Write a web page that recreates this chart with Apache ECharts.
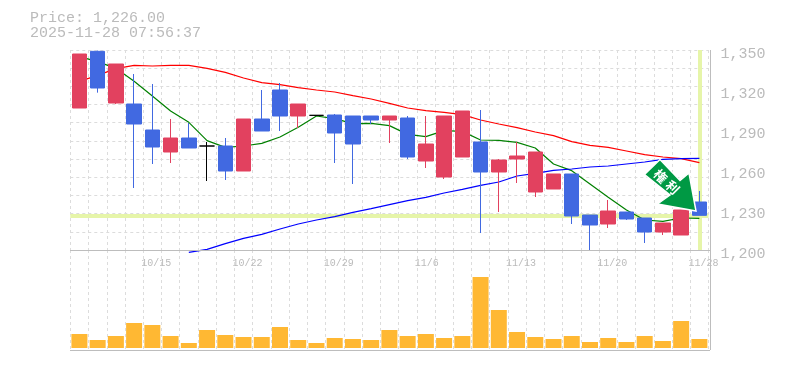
<!DOCTYPE html>
<html>
<head>
<meta charset="utf-8">
<style>
  html, body { margin: 0; padding: 0; background: #fff; }
  #chart { width: 785px; height: 370px; }
</style>
<script src="https://cdn.jsdelivr.net/npm/echarts@6/dist/echarts.min.js"></script>
</head>
<body>
<div id="chart"></div>
<script>
const dates = ['10/8','10/9','10/10','10/14','10/15','10/16','10/17','10/20','10/21','10/22','10/23','10/24','10/27','10/28','10/29','10/30','10/31','11/4','11/5','11/6','11/7','11/10','11/11','11/12','11/13','11/14','11/17','11/18','11/19','11/20','11/21','11/25','11/26','11/27','11/28'];
const dateTicks = ['10/15','10/22','10/29','11/6','11/13','11/20','11/28'];

// open, close, low, high
const ohlc = [
  [1306.5,1347,1306.5,1347],[1349,1321.5,1318,1349.5],[1310.25,1339.5,1309.5,1339.5],[1309.5,1294.5,1246.5,1332],
  [1290,1277.25,1264.5,1324.5],[1273.5,1284,1265.25,1298.25],[1284,1276.5,1276.5,1295.25],[1278,1278,1251.75,1281],
  [1278,1259.25,1252.5,1284],[1259.25,1298.25,1259.25,1298.25],[1298.25,1289.25,1289.25,1320],[1320,1300.5,1289.25,1325.25],
  [1300.5,1309.5,1291.5,1309.5],[1301,1301,1301,1301],[1301.25,1287.75,1265.25,1302],[1300.5,1279.5,1249.5,1300.5],
  [1300.5,1297.5,1294.5,1300.5],[1297.5,1300.5,1280.25,1300.5],[1299,1269.75,1268.25,1300.5],[1266.75,1279.5,1261.5,1300.5],
  [1254.75,1300.5,1253.25,1300.5],[1269.75,1304.25,1269.75,1304.25],[1281,1258.5,1212.75,1305],[1258.5,1267.5,1228.5,1268.25],
  [1268.25,1270.5,1250.25,1281],[1243.5,1273.5,1239.75,1273.5],[1245.75,1257,1245.75,1257],[1257,1225.5,1219.5,1257],
  [1226.25,1218.75,1199.25,1226.25],[1219.5,1229.25,1216.5,1237.5],[1228.5,1223.25,1222.5,1228.5],[1224,1213.5,1205.25,1224],
  [1213.5,1220.25,1211.25,1220.25],[1211.25,1230,1211.25,1230],[1236,1226,1226,1244.25]
];
const ma5 = [1345,1341.25,1336.25,1326.5,1315.5,1304.25,1295.75,1282,1277,1278,1280,1284.75,1292,1300.5,1298.5,1294.75,1295,1293.25,1286.75,1285,1289.5,1289,1282.5,1282.25,1280.75,1276.5,1264.5,1259.5,1249.5,1239.5,1230,1222.5,1221.5,1224,1223.75];
const ma25 = [1326.5,1331,1336,1338.5,1338,1338.5,1338.5,1336.25,1333.25,1329,1325.5,1324,1321.75,1320,1318.5,1315.75,1313.25,1310,1306.5,1304.5,1303.25,1301.5,1297.5,1294.5,1291.75,1288.5,1285.75,1281.25,1278.5,1277,1274.25,1271.5,1269.75,1268.5,1265.5];
const ma75 = [null,null,null,null,null,null,1198.25,1200.5,1204.75,1208.75,1211.75,1215.75,1219.5,1222.5,1225,1228.25,1231,1234,1237,1239.5,1242.75,1245.5,1248.5,1251,1255.5,1257.5,1259.75,1260.75,1262.25,1263,1264.5,1266,1268,1268.5,1268.75];
const volumes = [14,8,12,25,23,12,5,18,13,11,11,21,8,5,10,9,8,18,12,14,10,12,71,38,16,11,9,12,6,10,6,12,7,27,9];
const priceNow = 1226;
const priceText = 'Price: 1,226.00';
const timeText = '2025-11-28 07:56:37';
const badgeChars = ['権', '利'];

const MONO = '"Liberation Mono", "DejaVu Sans Mono", monospace';
const GRID_LINE = { show: true, lineStyle: { color: '#dcdcdc', type: [3, 3], width: 1 } };
const FRAME = '#bdbdbd';
const MARKER = '#e6f5a9';

const frameLine = (x1, y1, x2, y2) => ({
  type: 'line', silent: true, z: 20,
  shape: { x1, y1, x2, y2 },
  style: { stroke: FRAME, lineWidth: 1 },
});

const badgeChar = (text, x, y) => ({
  type: 'text', silent: true, z: 31, x, y, rotation: -Math.PI / 4,
  style: { text, fill: '#fff', font: 'bold 13px "Noto Sans CJK JP"', align: 'center', verticalAlign: 'middle' },
});

const chart = echarts.init(document.getElementById('chart'));

chart.setOption({
  animation: false,
  backgroundColor: '#fff',
  title: {
    text: priceText + '\n' + timeText,
    left: 30, top: 11, padding: 0,
    textStyle: { fontFamily: MONO, fontSize: 15, fontWeight: 'normal', color: '#bbb', lineHeight: 15 },
  },
  grid: [
    { left: 70.3, top: 50, width: 638.2, height: 200 },
    { left: 70.3, top: 250, width: 638.2, height: 100 },
  ],
  xAxis: [
    {
      type: 'category', gridIndex: 0, data: dates,
      axisLine: { show: false }, axisTick: { show: false }, axisLabel: { show: false },
      splitLine: { ...GRID_LINE, interval: 0 },
    },
    {
      type: 'category', gridIndex: 1, data: dates, position: 'top',
      axisLine: { show: false }, axisTick: { show: false },
      splitLine: { ...GRID_LINE, interval: 0 },
      axisLabel: {
        inside: true, margin: 8, color: '#bbb', fontFamily: MONO, fontSize: 10,
        align: 'left', padding: [0, 0, 0, -11],
        hideOverlap: false,
        interval: (i, v) => dateTicks.includes(v),
      },
    },
  ],
  yAxis: [
    {
      type: 'value', gridIndex: 0, position: 'right', min: 1200, max: 1350, interval: 30,
      axisLine: { show: false }, axisTick: { show: false }, splitLine: { show: false },
      axisLabel: {
        margin: 12, color: '#bbb', fontFamily: MONO, fontSize: 15,
        verticalAlign: 'top', lineHeight: 8,
        formatter: v => v.toLocaleString('en-US'),
      },
    },
    // the dashed rows don't line up with the price ticks, so they get their own scale
    {
      type: 'value', gridIndex: 0, min: 0, max: 11, interval: 1,
      axisLine: { show: false }, axisTick: { show: false }, axisLabel: { show: false },
      splitLine: GRID_LINE,
    },
    {
      type: 'value', gridIndex: 1, min: -2, max: 98,
      axisLine: { show: false }, axisTick: { show: false }, axisLabel: { show: false },
      splitLine: { show: false },
    },
  ],
  series: [
    {
      name: 'marker', type: 'line', data: [], z: 1, silent: true,
      markLine: {
        z: 1, silent: true, symbol: 'none', label: { show: false }, animation: false,
        lineStyle: { color: MARKER, width: 4, type: 'solid' },
        data: [{ yAxis: priceNow }, { xAxis: dates[dates.length - 1] }],
      },
    },
    ...[[ma25, '#ff0000'], [ma5, '#008000'], [ma75, '#0000ff']].map(([data, color]) => ({
      type: 'line', data, z: 2, symbol: 'none', silent: true, clip: false,
      lineStyle: { color, width: 1.2 },
    })),
    {
      type: 'candlestick', data: ohlc, z: 3, barWidth: 15,
      itemStyle: { color: '#e2415f', color0: '#4169e1', borderColor: '#e2415f', borderColor0: '#4169e1', borderColorDoji: '#000', borderWidth: 1 },
    },
    {
      type: 'bar', xAxisIndex: 1, yAxisIndex: 2, data: volumes, barWidth: 16,
      itemStyle: { color: '#ffb833' },
    },
  ],
  graphic: [
    frameLine(70, 250.5, 710, 250.5),
    frameLine(70, 350.5, 710, 350.5),
    frameLine(710.5, 50, 710.5, 350),
    {
      type: 'polygon', silent: true, z: 30,
      shape: { points: [[660, 159.5], [644.5, 174.5], [670, 195], [657.5, 204], [696, 211], [689, 173], [680, 180.5]] },
      style: { fill: '#009944', stroke: '#fff', lineWidth: 1.5 },
    },
    badgeChar(badgeChars[0], 660.7, 176),
    badgeChar(badgeChars[1], 672.7, 187.3),
  ],
});
</script>
</body>
</html>
